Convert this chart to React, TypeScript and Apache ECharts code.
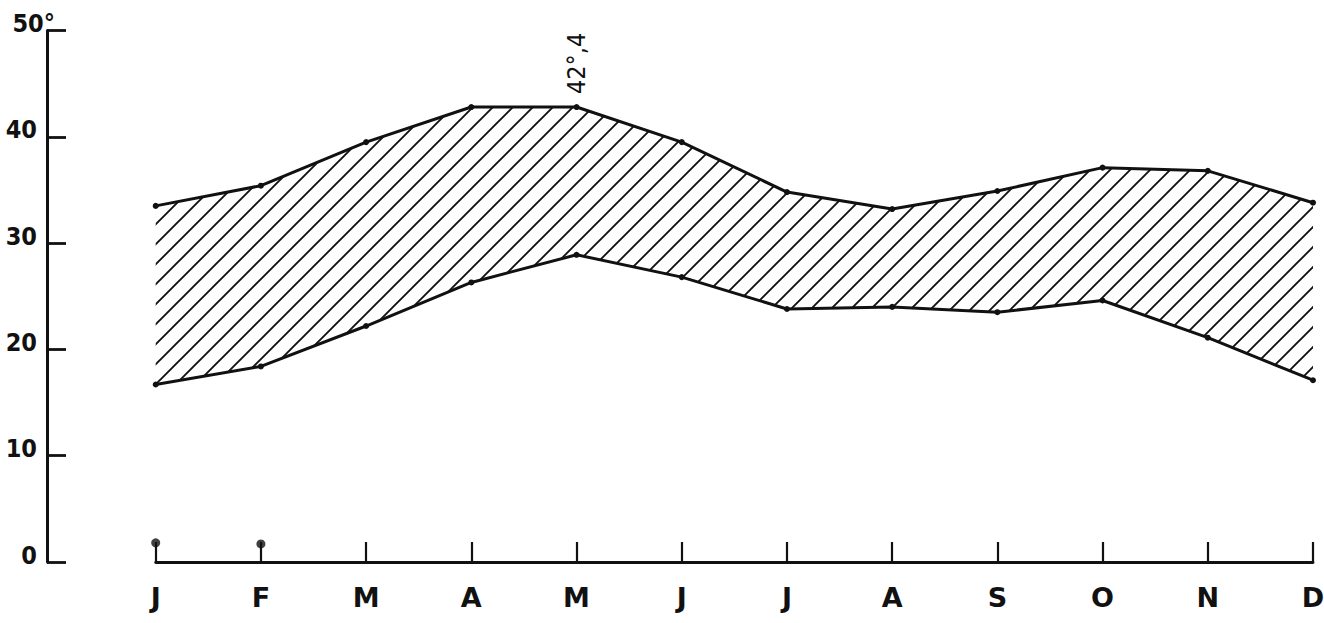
import React, { useEffect, useRef } from "react";
import * as echarts from "echarts";

const months = ["J", "F", "M", "A", "M", "J", "J", "A", "S", "O", "N", "D"];
const maxTemp = [33.5, 35.4, 39.5, 42.8, 42.8, 39.5, 34.8, 33.2, 34.9, 37.1, 36.8, 33.8];
const minTemp = [16.7, 18.4, 22.2, 26.3, 28.9, 26.8, 23.8, 24.0, 23.5, 24.6, 21.1, 17.1];
const rain = [1.8, 1.7, null, null, null, null, null, null, null, null, null, null];
const yTicks = [0, 10, 20, 30, 40, 50];
const peakIndex = 4;
const peakLabel = "42°,4";

function makeHatch(): HTMLCanvasElement {
  const s = 20;
  const c = document.createElement("canvas");
  c.width = s;
  c.height = s;
  const ctx = c.getContext("2d")!;
  ctx.strokeStyle = "#111";
  ctx.lineWidth = 1.9;
  ctx.lineCap = "square";
  ctx.beginPath();
  ctx.moveTo(-2, s + 2);
  ctx.lineTo(s + 2, -2);
  ctx.moveTo(-2, 2);
  ctx.lineTo(2, -2);
  ctx.moveTo(s - 2, s + 2);
  ctx.lineTo(s + 2, s - 2);
  ctx.stroke();
  return c;
}

export default function App() {
  const ref = useRef<HTMLDivElement>(null);
  useEffect(() => {
    document.body.style.margin = "0";
    const chart = echarts.init(ref.current!, null, { renderer: "svg" });
    const range = maxTemp.map((v, i) => +(v - minTemp[i]).toFixed(2));
    const topTick = yTicks[yTicks.length - 1];
    const yFont = {
      color: "#111",
      fontFamily: "DejaVu Sans Condensed",
      fontWeight: "bold" as const,
      fontSize: 25,
      lineHeight: 14,
      verticalAlign: "bottom" as const,
    };
    const yBase = {
      type: "value",
      min: yTicks[0],
      max: topTick,
      interval: 10,
      offset: 108.7,
      position: "left",
      splitLine: { show: false },
    };
    chart.setOption({
      animation: false,
      backgroundColor: "#fff",
      grid: {
        left: 155.7,
        right: 11,
        top: 30.5,
        bottom: 61,
        containLabel: false,
        outerBoundsMode: "none",
      },
      xAxis: {
        type: "category",
        data: months,
        boundaryGap: false,
        axisLine: { lineStyle: { color: "#111", width: 2.8 } },
        axisTick: { inside: true, length: 20, interval: 0, lineStyle: { color: "#111", width: 2.2 } },
        axisLabel: {
          interval: 0,
          margin: 22,
          color: "#111",
          fontFamily: "DejaVu Sans",
          fontWeight: "bold",
          fontSize: 27,
        },
        splitLine: { show: false },
      },
      yAxis: [
        {
          ...yBase,
          axisLine: { show: true, lineStyle: { color: "#111", width: 3 } },
          axisTick: { show: true, inside: true, length: 19, lineStyle: { color: "#111", width: 2.8 } },
          axisLabel: {
            margin: 10,
            ...yFont,
            formatter: (v: number) => (v === topTick ? "" : String(v)),
          },
        },
        {
          ...yBase,
          axisLine: { show: false },
          axisTick: { show: false },
          axisLabel: {
            margin: -8,
            ...yFont,
            formatter: (v: number) => (v === topTick ? v + "°" : ""),
          },
        },
      ],
      series: [
        {
          type: "line",
          name: "min",
          stack: "band",
          data: minTemp,
          symbol: "circle",
          symbolSize: 6,
          itemStyle: { color: "#111" },
          lineStyle: { color: "#111", width: 3 },
          z: 3,
        },
        {
          type: "line",
          name: "range",
          stack: "band",
          data: range.map((v, i) =>
            i === peakIndex
              ? {
                  value: v,
                  label: {
                    show: true,
                    formatter: peakLabel,
                    position: "top",
                    distance: 10,
                    rotate: 90,
                    align: "left",
                    verticalAlign: "middle",
                    color: "#111",
                    fontFamily: "DejaVu Sans Condensed",
                    fontSize: 25,
                  },
                }
              : v
          ),
          symbol: "circle",
          symbolSize: 6,
          itemStyle: { color: "#111" },
          lineStyle: { color: "#111", width: 3 },
          areaStyle: { color: { image: makeHatch(), repeat: "repeat" }, opacity: 1 },
          z: 3,
        },
        {
          type: "scatter",
          name: "rain",
          data: rain,
          symbol: "circle",
          symbolSize: 9,
          itemStyle: { color: "#111" },
          z: 4,
        },
      ],
    });
    return () => chart.dispose();
  }, []);
  return <div ref={ref} style={{ width: 1324, height: 623 }} />;
}
